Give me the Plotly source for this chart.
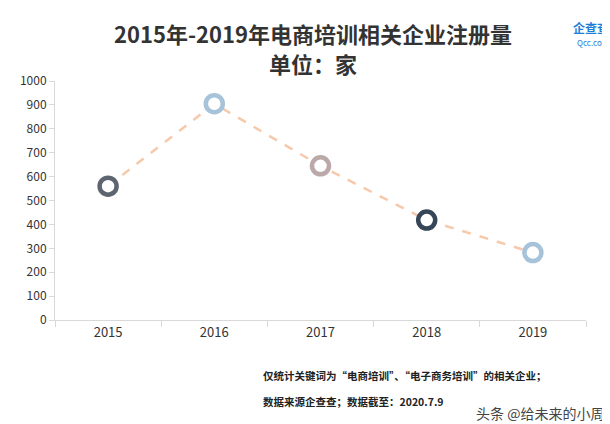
import plotly.graph_objects as go

years = ["2015", "2016", "2017", "2018", "2019"]
counts = [560, 905, 645, 418, 282]
ring_colors = ["#5d6670", "#a7c3d9", "#bba9a9", "#364659", "#a7c3d9"]

fig = go.Figure()
fig.add_trace(go.Scatter(
    x=years, y=counts, mode="lines",
    line=dict(color="#f6c9ab", width=2.5, dash="dash"),
    hoverinfo="skip"))
fig.add_trace(go.Scatter(
    x=years, y=counts, mode="markers",
    marker=dict(size=17, color="white", symbol="circle",
                line=dict(color=ring_colors, width=4.5))))

fig.update_layout(
    width=610, height=424, showlegend=False,
    paper_bgcolor="white", plot_bgcolor="white",
    margin=dict(l=45, r=32, t=73, b=112),
    font=dict(family="Noto Sans CJK SC, sans-serif", color="#333"),
)
fig.update_yaxes(range=[0, 1000], dtick=100, showgrid=False, zeroline=False,
                 showline=True, linecolor="#d9d9d9", ticks="outside",
                 tickcolor="#d9d9d9", ticklen=5, tickfont=dict(size=12, color="#333"))
fig.update_xaxes(showgrid=False, showline=True, linecolor="#d9d9d9",
                 ticks="outside", tickson="boundaries", tickcolor="#d9d9d9",
                 ticklen=6, tickfont=dict(size=13, color="#333"),
                 range=[-0.5, 4.5])

def note(text, x, y, size, color="#222", xanchor="left", bold=True):
    fig.add_annotation(text=f"<b>{text}</b>" if bold else text,
                       xref="paper", yref="paper", x=x, y=y, xanchor=xanchor,
                       yanchor="middle", showarrow=False,
                       font=dict(size=size, color=color))

note("2015年-2019年电商培训相关企业注册量", 0.486, 1.20, 22, "#333", "center")
note("单位：家", 0.486, 1.075, 22, "#333", "center")
note("仅统计关键词为“电商培训”、“电子商务培训”的相关企业；", 0.388, -0.234, 10.5)
note("数据来源企查查；数据截至：2020.7.9", 0.388, -0.343, 10.5)
note("头条 @给未来的小周", 1.037, -0.39, 14, "#444", "right", bold=False)
note("企查查", 1.047, 1.225, 12, "#1e7fd8", "right")
note("Qcc.com", 1.047, 1.16, 8, "#1e7fd8", "right", bold=False)

fig.write_html("out.html")
